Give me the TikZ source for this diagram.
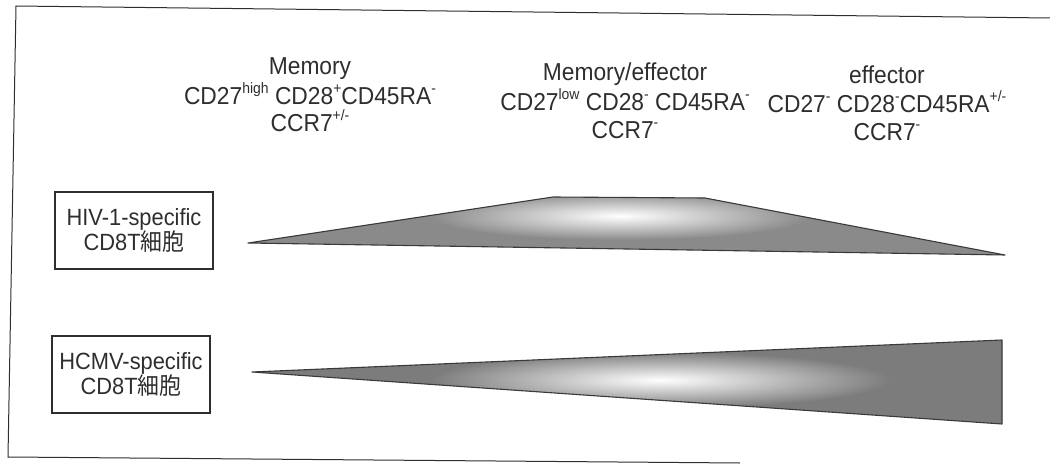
\documentclass[tikz,border=0pt]{standalone}
\usepackage{fontspec}
\setmainfont[FakeStretch=0.93]{Liberation Sans}
\newfontfamily\cjk[FakeStretch=0.93]{Noto Sans CJK JP}
\definecolor{ink}{HTML}{2E2E2E}
\definecolor{wedge}{HTML}{8A8A8A}
\definecolor{edge}{HTML}{3A3A3A}
\newcommand\hsup[1]{\raisebox{0.45em}{\fontsize{15}{15}\selectfont #1}}
\begin{document}
\begin{tikzpicture}[x=1pt,y=-1pt,
  lbl/.style={text=ink,font=\fontsize{24.5}{26}\selectfont,inner sep=0pt,anchor=base},
  cellbox/.style={draw=ink,line width=1.2pt,minimum width=158pt,minimum height=77pt,
    align=center,text=ink,font=\fontsize{23.5}{24}\selectfont,inner sep=0pt},
  outline/.style={draw=edge,line width=1.1pt,line join=round}]
\useasboundingbox (0,0) rectangle (1050,468);
% frame
\coordinate (ftl) at (16,6);
\coordinate (ftr) at (1050,18);
\coordinate (fbl) at (8,457);
\coordinate (fbr) at (740,463);
\draw[ink,line width=1pt] (ftr) -- (ftl) -- (fbl) -- (fbr);
% column headings
\node[lbl] (m1) at (310,75) {Memory};
\node[lbl] (m2) at (310,105) {CD27\hsup{high} CD28\hsup{+}CD45RA\hsup{-}};
\node[lbl] (m3) at (310,132) {CCR7\hsup{+/-}};
\node[lbl] (e1) at (625,81) {Memory/effector};
\node[lbl] (e2) at (625,111) {CD27\hsup{low} CD28\hsup{-} CD45RA\hsup{-}};
\node[lbl] (e3) at (625,139) {CCR7\hsup{-}};
\node[lbl] (f1) at (887,84) {effector};
\node[lbl] (f2) at (887,113) {CD27\hsup{-} CD28\hsup{-}CD45RA\hsup{+/-}};
\node[lbl] (f3) at (887,141) {CCR7\hsup{-}};
% boxes
\node[cellbox] (hiv) at (134,230.5) {HIV-1-specific\\CD8T{\cjk 細胞}};
\node[cellbox] (hcmv) at (131,374.5) {HCMV-specific\\CD8T{\cjk 細胞}};
% HIV wedge
\coordinate (a1) at (248,243);
\coordinate (a2) at (553,197);
\coordinate (a3) at (705,198);
\coordinate (a4) at (1005,255);
\begin{scope}
  \clip (a1) -- (a2) -- (a3) -- (a4) -- cycle;
  \fill[wedge] (240,190) rectangle (1010,260);
  \shade[inner color=white,outer color=wedge] (620,216) ellipse (190 and 24);
\end{scope}
\draw[outline] (a1) -- (a2) -- (a3) -- (a4) -- cycle;
% HCMV wedge
\coordinate (b1) at (252,372);
\coordinate (b2) at (1002,340);
\coordinate (b3) at (1002,424);
\begin{scope}
  \clip (b1) -- (b2) -- (b3) -- cycle;
  \fill[wedge!90!black] (240,335) rectangle (1010,430);
  \shade[inner color=white,outer color=wedge!90!black] (660,380) ellipse (230 and 28);
\end{scope}
\draw[outline] (b1) -- (b2) -- (b3) -- cycle;
\end{tikzpicture}
\end{document}
